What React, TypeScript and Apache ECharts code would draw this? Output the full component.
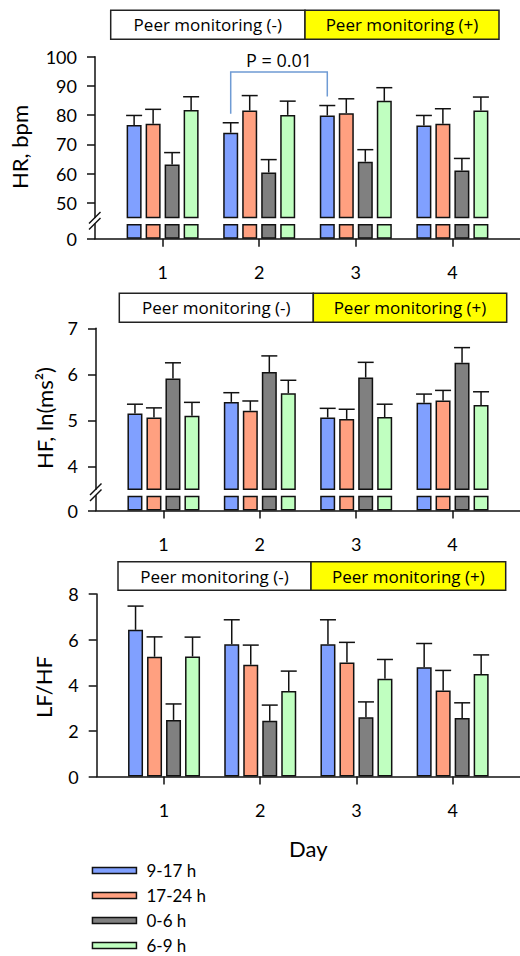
import React, { useEffect, useRef } from 'react';
import * as echarts from 'echarts';

// ---------- data ----------
const days = ['1', '2', '3', '4'];
const dayValues = [1, 2, 3, 4];
const groups = ['9-17 h', '17-24 h', '0-6 h', '6-9 h'];
const colors = ['#80a0ff', '#ffa080', '#808080', '#c0ffc0'];

// HR, bpm (mean, SEM) per group [9-17, 17-24, 0-6, 6-9], per day 1..4
const hrMeans = [
  [76.6, 74.0, 79.9, 76.5],
  [77.1, 81.6, 80.7, 77.1],
  [63.1, 60.4, 64.1, 61.1],
  [81.8, 80.1, 84.9, 81.6],
];
const hrSems = [
  [3.3, 3.4, 3.4, 3.4],
  [4.9, 5.1, 4.9, 5.1],
  [4.1, 4.4, 4.1, 4.1],
  [4.5, 4.7, 4.5, 4.6],
];
// HF, ln(ms2)
const hfMeans = [
  [5.15, 5.40, 5.06, 5.38],
  [5.06, 5.21, 5.03, 5.43],
  [5.91, 6.05, 5.93, 6.25],
  [5.10, 5.59, 5.07, 5.33],
];
const hfSems = [
  [0.20, 0.20, 0.20, 0.19],
  [0.21, 0.21, 0.21, 0.22],
  [0.34, 0.35, 0.33, 0.33],
  [0.29, 0.28, 0.28, 0.29],
];
// LF/HF
const lfMeans = [
  [6.43, 5.80, 5.80, 4.79],
  [5.25, 4.90, 5.00, 3.77],
  [2.48, 2.44, 2.60, 2.56],
  [5.26, 3.75, 4.28, 4.49],
];
const lfSems = [
  [1.04, 1.07, 1.07, 1.04],
  [0.87, 0.86, 0.88, 0.88],
  [0.70, 0.69, 0.67, 0.67],
  [0.85, 0.87, 0.85, 0.84],
];

const hrTicks = [50, 60, 70, 80, 90, 100];
const hfTicks = [4, 5, 6, 7];
const lfTicks = [0, 2, 4, 6, 8];
const stubTicks = [0];
const stubValue = 1; // height of the boxes below the axis break
const pBracket = { group: 0, from: 2, to: 3, level: 94.8, label: 'P = 0.01' };
const headerLabels = ['Peer monitoring (-)', 'Peer monitoring (+)'];

// ---------- styling ----------
const FONT = 'Lato';
const HFONT = 'Open Sans';
const BAR_W = 15;
const BAR_GAP = 4;
const PITCH = BAR_W + BAR_GAP;
const INK = '#111';
const X_MIN = 0.3;
const X_MAX = 4.7;

const lineStyle = { color: INK, width: 1.5 };

function barSeries(gi: number, data: number[], axisIdx: number) {
  return {
    type: 'bar',
    name: groups[gi],
    xAxisIndex: axisIdx,
    yAxisIndex: axisIdx,
    data: data.map((v, i) => [dayValues[i], v]),
    barWidth: BAR_W,
    barGap: (BAR_GAP / BAR_W) * 100 + '%',
    clip: true,
    itemStyle: { color: colors[gi], borderColor: INK, borderWidth: 1.5 },
    emphasis: { disabled: true },
    z: 2,
  };
}

function errSeries(gi: number, means: number[], sems: number[], axisIdx: number) {
  const off = (gi - 1.5) * PITCH;
  return {
    type: 'custom',
    name: 'err-' + axisIdx + '-' + gi,
    xAxisIndex: axisIdx,
    yAxisIndex: axisIdx,
    silent: true,
    clip: false,
    z: 3,
    data: means.map((m, i) => [dayValues[i], m, sems[i]]),
    renderItem: (_p: any, api: any) => {
      const d = api.value(0);
      const m = api.value(1);
      const s = api.value(2);
      const a = api.coord([d, m]);
      const b = api.coord([d, m + s]);
      const x = a[0] + off;
      const st = { stroke: INK, lineWidth: 1.5 };
      return {
        type: 'group',
        children: [
          { type: 'line', shape: { x1: x, y1: a[1], x2: x, y2: b[1] }, style: st },
          { type: 'line', shape: { x1: x - 8, y1: b[1], x2: x + 8, y2: b[1] }, style: st },
        ],
      };
    },
  };
}

function bracketSeries() {
  const off = (pBracket.group - 1.5) * PITCH;
  const g = pBracket.group;
  const fromTop = hrMeans[g][pBracket.from - 1] + hrSems[g][pBracket.from - 1];
  const toTop = hrMeans[g][pBracket.to - 1] + hrSems[g][pBracket.to - 1];
  return {
    type: 'custom',
    name: 'bracket',
    xAxisIndex: 0,
    yAxisIndex: 0,
    silent: true,
    clip: false,
    z: 4,
    data: [[pBracket.from, pBracket.level]],
    renderItem: (_p: any, api: any) => {
      const a = api.coord([pBracket.from, fromTop]);
      const b = api.coord([pBracket.to, toTop]);
      const l = api.coord([pBracket.from, pBracket.level]);
      const x1 = a[0] + off;
      const x2 = b[0] + off;
      const yL = l[1];
      return {
        type: 'group',
        children: [
          {
            type: 'polyline',
            shape: { points: [[x1, a[1] - 9], [x1, yL], [x2, yL], [x2, b[1] - 9]] },
            style: { stroke: '#6f9bd4', lineWidth: 1.5, fill: null },
          },
          {
            type: 'text',
            x: (x1 + x2) / 2,
            y: yL - 12,
            style: {
              text: pBracket.label,
              fontSize: 18,
              fontFamily: HFONT,
              fill: '#000',
              align: 'center',
              verticalAlign: 'middle',
            },
          },
        ],
      };
    },
  };
}

function header(x: number, y: number, w1: number, w2: number, h: number, fs: number) {
  const mk = (rx: number, w: number, fill: string, label: string) => ({
    type: 'group',
    children: [
      { type: 'rect', shape: { x: rx, y, width: w, height: h }, style: { fill, stroke: '#222', lineWidth: 1.5 } },
      {
        type: 'text',
        x: rx + w / 2,
        y: y + h / 2,
        style: { text: label, fontSize: fs, fontFamily: HFONT, fill: '#000', align: 'center', verticalAlign: 'middle' },
      },
    ],
  });
  return [mk(x, w1, '#ffffff', headerLabels[0]), mk(x + w1, w2, '#ffff00', headerLabels[1])];
}

function yTitle(text: string, x: number, y: number) {
  return {
    type: 'text',
    x,
    y,
    rotation: Math.PI / 2,
    style: { text, fontSize: 22, fontFamily: FONT, fill: '#000', align: 'center', verticalAlign: 'middle' },
  };
}

function slashes(x: number, yc: number) {
  const st = { stroke: INK, lineWidth: 1.5 };
  return [
    { type: 'line', shape: { x1: x - 6, y1: yc + 2.5, x2: x + 5.5, y2: yc - 9 }, style: st },
    { type: 'line', shape: { x1: x - 6, y1: yc + 8.5, x2: x + 5.5, y2: yc - 3 }, style: st },
  ];
}

function hiddenX(gridIndex: number) {
  return { type: 'value', gridIndex, min: X_MIN, max: X_MAX, show: false };
}

function shownX(gridIndex: number, extra: any = {}) {
  return {
    type: 'value',
    gridIndex,
    min: X_MIN,
    max: X_MAX,
    axisLine: { show: true, onZero: false, lineStyle },
    axisTick: { show: true, length: 8, customValues: dayValues, lineStyle },
    axisLabel: {
      customValues: dayValues,
      formatter: (v: number) => days[Math.round(v) - 1],
      fontSize: 18,
      fontFamily: FONT,
      color: '#000',
      margin: 24,
    },
    splitLine: { show: false },
    ...extra,
  };
}

function yAx(gridIndex: number, min: number, max: number, ticks: number[]) {
  return {
    type: 'value',
    gridIndex,
    min,
    max,
    axisLine: { show: true, onZero: false, lineStyle },
    axisTick: { show: true, length: 8, customValues: ticks, lineStyle },
    axisLabel: { customValues: ticks, fontSize: 18, fontFamily: FONT, color: '#000', margin: 18 },
    splitLine: { show: false },
  };
}

export default function App() {
  const ref = useRef<HTMLDivElement>(null);

  useEffect(() => {
    if (!ref.current) return;
    const chart = echarts.init(ref.current, undefined, { renderer: 'svg' });

    const series: any[] = [];
    const panels = [
      { means: hrMeans, sems: hrSems, upper: 0, lower: 1 },
      { means: hfMeans, sems: hfSems, upper: 2, lower: 3 },
      { means: lfMeans, sems: lfSems, upper: 4, lower: -1 },
    ];
    panels.forEach((p) => {
      groups.forEach((_g, gi) => {
        series.push(barSeries(gi, p.means[gi], p.upper));
        series.push(errSeries(gi, p.means[gi], p.sems[gi], p.upper));
        if (p.lower >= 0) {
          series.push(barSeries(gi, dayValues.map(() => stubValue), p.lower));
        }
      });
    });
    series.push(bracketSeries());

    const option: any = {
      animation: false,
      backgroundColor: '#ffffff',
      textStyle: { fontFamily: FONT },
      grid: [
        { left: 95, top: 56.7, width: 425, height: 160.8 },
        { left: 95, top: 224, width: 425, height: 14.8 },
        { left: 96, top: 328.3, width: 424, height: 161 },
        { left: 96, top: 495.7, width: 424, height: 14.8 },
        { left: 96.7, top: 594, width: 423.3, height: 182.5 },
      ],
      xAxis: [
        hiddenX(0),
        shownX(1),
        hiddenX(2),
        shownX(3),
        shownX(4, {
          name: 'Day',
          nameLocation: 'middle',
          nameGap: 61,
          nameTextStyle: { fontSize: 22, fontFamily: FONT, color: '#000' },
        }),
      ],
      yAxis: [
        yAx(0, 45, 100, hrTicks),
        yAx(1, 0, stubValue, stubTicks),
        yAx(2, 3.5, 7, hfTicks),
        yAx(3, 0, stubValue, stubTicks),
        { ...yAx(4, 0, 8, lfTicks), interval: 2 },
      ],
      legend: {
        data: groups,
        orient: 'vertical',
        left: 91.7,
        top: 862,
        height: 120,
        padding: 0,
        itemWidth: 44,
        itemHeight: 6,
        itemGap: 8,
        icon: 'rect',
        selectedMode: false,
        itemStyle: { borderColor: INK, borderWidth: 1.5 },
        textStyle: { fontSize: 17, fontFamily: FONT, color: '#000', lineHeight: 14, padding: [0, 0, 0, 5] },
      },
      graphic: [
        ...header(110.7, 10.3, 194.3, 194, 29, 17),
        ...header(119.3, 293.3, 194, 193.4, 29, 17),
        ...header(118, 561.7, 193, 194.7, 28.6, 17),
        yTitle('HR, bpm', 19, 147),
        yTitle('HF, ln(ms²)', 44, 418),
        yTitle('LF/HF', 43, 687),
        ...slashes(95, 221),
        ...slashes(96, 492.5),
      ],
      series,
    };

    chart.setOption(option);
    return () => chart.dispose();
  }, []);

  return <div ref={ref} style={{ position: 'absolute', left: 0, top: 0, width: 520, height: 956 }} />;
}
